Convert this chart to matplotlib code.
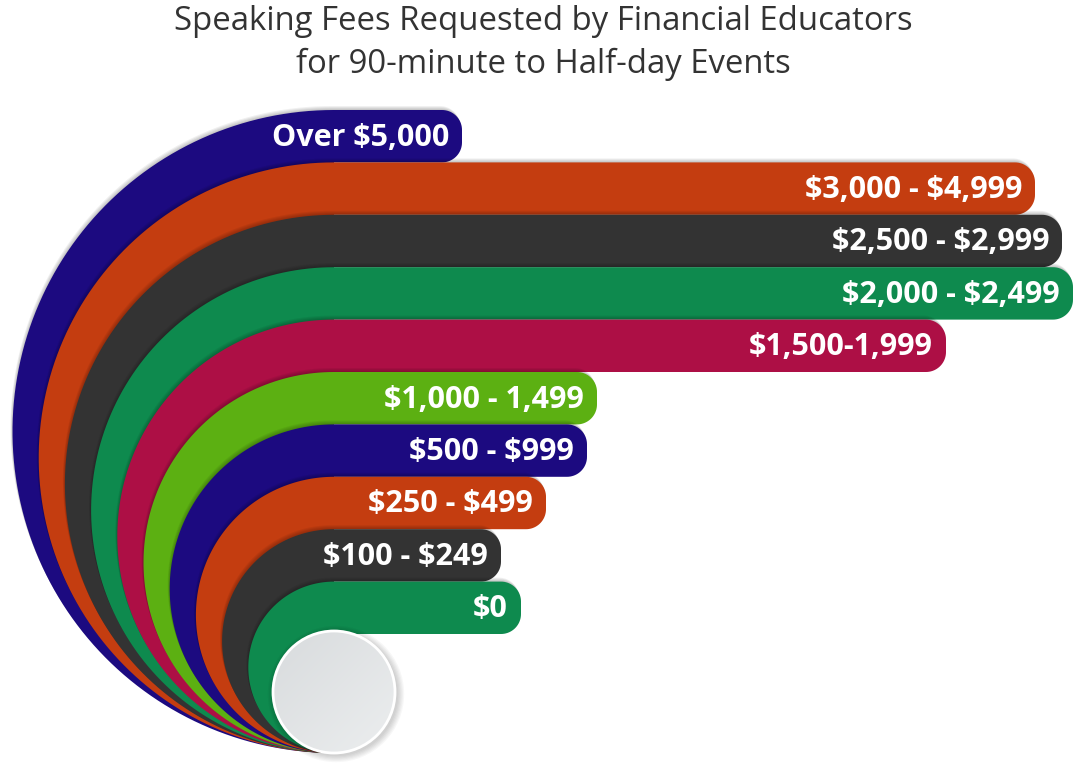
import numpy as np
import matplotlib.pyplot as plt
from matplotlib.patches import Polygon, Circle
from matplotlib.colors import LinearSegmentedColormap

plt.rcParams["text.parse_math"] = False

# fee ranges, outermost band first
labels = ["Over $5,000", "$3,000 - $4,999", "$2,500 - $2,999", "$2,000 - $2,499",
          "$1,500-1,999", "$1,000 - 1,499", "$500 - $999", "$250 - $499",
          "$100 - $249", "$0"]
# bar length to the right of the hub
values = [128, 701, 728, 739, 612, 263, 253, 212, 167, 187]
colors = ["#1c0a80", "#c43d10", "#333333", "#0e8a4e", "#ad0f45",
          "#5cb012", "#1c0a80", "#c43d10", "#333333", "#0e8a4e"]

title = "Speaking Fees Requested by Financial Educators\nfor 90-minute to Half-day Events"

cx = 334        # x of the hub
bottom = 753    # all rings meet here
top0 = 110      # top of outer band
step = 52.4     # band thickness
rad = 20        # rounding of bar ends


def band_shape(top, length, dx=0, dy=0):
    r = (bottom - top) / 2
    cy = bottom - r
    th = np.linspace(0, np.pi, 120)
    arc = np.column_stack([cx - r * np.sin(th), cy + r * np.cos(th)])
    end = cx + length
    h = step
    a = np.linspace(-np.pi / 2, 0, 20)
    c1 = np.column_stack([end - rad + rad * np.cos(a), top + rad + rad * np.sin(a)])
    a = np.linspace(0, np.pi / 2, 20)
    c2 = np.column_stack([end - rad + rad * np.cos(a), top + h - rad + rad * np.sin(a)])
    pts = np.vstack([arc, c1, c2, [[cx, top + h]]])
    pts = pts + [dx, dy]
    return pts


fig = plt.figure(figsize=(10.75, 7.75), dpi=100)
ax = fig.add_axes([0, 0, 1, 1])
ax.axis("off")

for i, (lab, val, col) in enumerate(zip(labels, values, colors)):
    top = top0 + i * step
    # soft shadow thrown up-left
    for k in range(1, 5):
        ax.add_patch(Polygon(band_shape(top, val, -0.5 * k, -1.0 * k),
                             closed=True, fc="black", ec="none", alpha=0.06))
    ax.add_patch(Polygon(band_shape(top, val), closed=True, fc=col, ec="none"))
    ax.text(cx + val - 13, top + step / 2 + 1.5, lab, ha="right", va="center",
            color="white", fontsize=22, fontweight="bold", family="Open Sans")

# hub disc
hx, hy, hr = 334, 692, 61
for k in range(1, 7):
    ax.add_patch(Circle((hx + 2, hy + 2), hr + k * 1.2, fc="black", ec="none", alpha=0.03))
grad = np.linspace(0, 1, 256)
img = np.add.outer(grad, grad) / 2
hub_cmap = LinearSegmentedColormap.from_list("hub", ["#d8dbdd", "#eceeef"])
im = ax.imshow(img, cmap=hub_cmap, extent=[hx - hr, hx + hr, hy + hr, hy - hr],
               zorder=3, interpolation="bilinear")
disc = Circle((hx, hy), hr, fc="none", ec="white", lw=2, zorder=4)
ax.add_patch(disc)
im.set_clip_path(disc)
ax.set_xlim(0, 1075)
ax.set_ylim(775, 0)

ax.text(543, 43, title, ha="center", va="center", fontsize=23.7, color="#333333",
        family="Open Sans", linespacing=1.35)

fig.savefig("out.png", dpi=100)
